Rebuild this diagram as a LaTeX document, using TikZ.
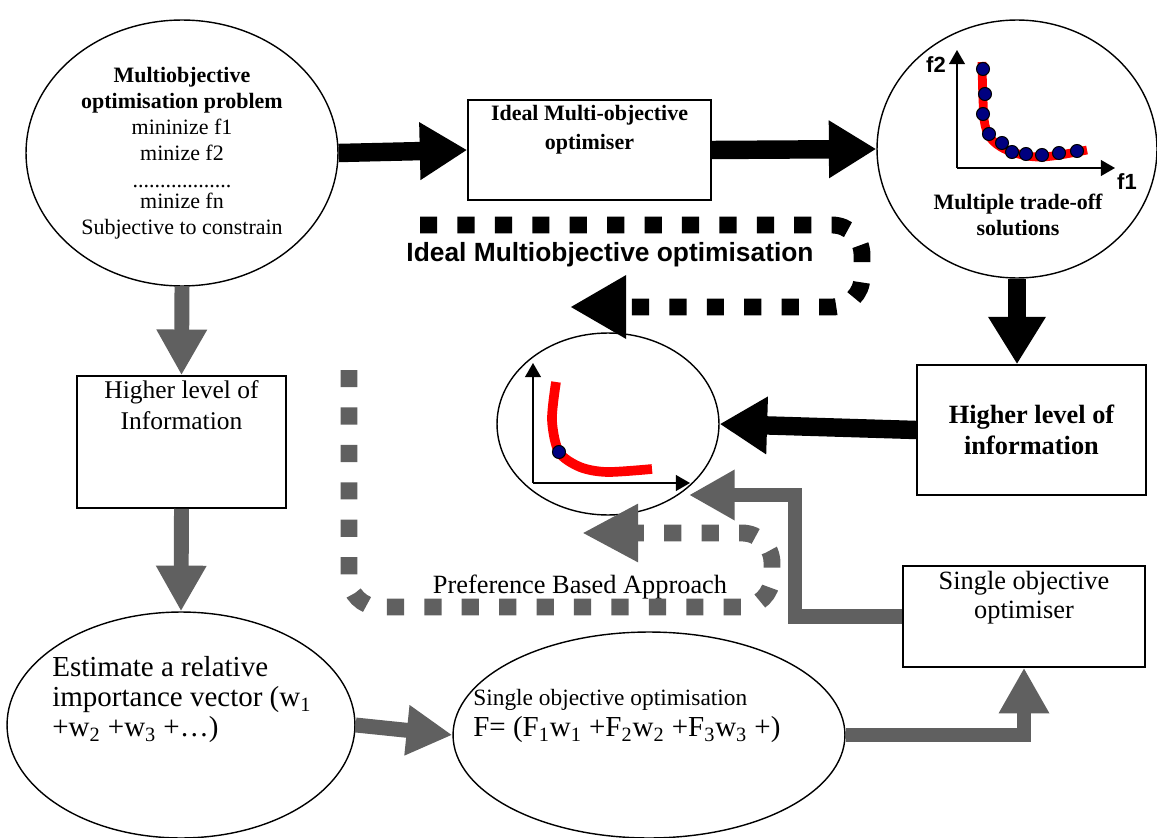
\documentclass[tikz,border=0pt]{standalone}
\usepackage{fontspec}
\setmainfont{Liberation Serif}
\setsansfont{Liberation Sans}
\usetikzlibrary{shapes}
\usetikzlibrary{positioning}
\usetikzlibrary{arrows.meta}
\definecolor{arrowgray}{RGB}{96,96,96}
\definecolor{dotblue}{RGB}{0,0,128}
\tikzset{
    ellnode/.style = {ellipse, draw=black, line width=0.8pt, inner sep=0pt},
    boxnode/.style = {rectangle, draw=black, line width=0.9pt, inner sep=0pt},
    txt/.style = {inner sep=0pt, align=center},
    txtl/.style = {inner sep=0pt, align=left, anchor=north west},
    edgeb/.style = {-{Triangle[length=27pt,width=31pt]}, line width=10.5pt, black},
    edgeg/.style = {-{Triangle[length=26pt,width=27pt]}, line width=8.5pt, arrowgray, line join=miter},
    edgebd/.style = {-{Triangle[length=32pt,width=34pt]}, line width=9.6pt, black, dash pattern=on 9.8pt off 11.5pt}, % ideal loop
    edgegd/.style = {-{Triangle[length=32pt,width=31pt]}, line width=9.6pt, arrowgray, dash pattern=on 9.8pt off 11.5pt}, % preference loop
    axisline/.style = {-{Triangle[length=8pt,width=9pt]}, line width=0.8pt},
    front/.style = {red, line width=5pt},
    soln/.style = {circle, draw=black, fill=dotblue, line width=0.6pt, minimum size=0.26cm, inner sep=0pt}
}

\begin{document}
\begin{tikzpicture}[x=0.02cm, y=-0.02cm, font=\rmfamily]
\useasboundingbox (0,0) rectangle (1157,838);

  % top row
  \node[ellnode, minimum width=6.24cm, minimum height=5.32cm, align=center,
        font=\fontsize{12.5}{14.7}\selectfont] (mop) at (182,153)
    {\textbf{Multiobjective}\\\textbf{optimisation problem}\\mininize f1\\minize f2\\[1pt]
     ..................\\[-3pt]minize fn\\Subjective to constrain};
  \node[boxnode, minimum width=4.86cm, minimum height=2cm] (imo) at (589.5,150) {};
  \node[txt, below=3pt of imo.north, font=\fontsize{12.5}{17}\selectfont\bfseries] (imot)
    {Ideal Multi-objective\\optimiser};
  \node[ellnode, minimum width=5.6cm, minimum height=5.16cm] (mts) at (1017,149) {};
  \node[txt, font=\fontsize{12.5}{14.7}\selectfont\bfseries] (mtst) at (1018,215)
    {Multiple trade-off\\solutions};

  % trade-off plot
  \coordinate (ro) at (957,168);
  \draw[axisline] (ro) -- (957,50);
  \draw[axisline] (ro) -- (1115,168);
  \node[font=\fontsize{12.5}{14}\selectfont\sffamily\bfseries] (f2) at (936,65) {f2};
  \node[font=\fontsize{12.5}{14}\selectfont\sffamily\bfseries] (f1) at (1127,182) {f1};
  \draw[front] plot[smooth, tension=0.6] coordinates
    {(982,62) (983,100) (985,125) (993,141) (1012,152) (1042,157) (1087,150)};
  \foreach \px/\py in {983/69, 985/94, 983/114, 989/134, 1002/143, 1012/152,
                       1026/154, 1042/155, 1059/153, 1077/151}
    \node[soln] at (\px,\py) {};

  % right column
  \node[boxnode, minimum width=4.58cm, minimum height=2.6cm, align=center,
        font=\fontsize{15}{17.5}\selectfont\bfseries] (hli) at (1031.5,430)
    {Higher level of\\information};
  \node[ellnode, minimum width=4.44cm, minimum height=3.64cm] (pref) at (608,424) {};
  \draw[axisline] (533,483) -- (533,363);
  \draw[axisline] (533,483) -- (690,483);
  \draw[front, line width=5.5pt] plot[smooth, tension=0.5] coordinates
    {(556,382) (552,420) (559,452) (580,467) (607,472) (652,469)};
  \node[soln] (pick) at (559,452) {};
  \node[boxnode, minimum width=4.84cm, minimum height=2.02cm] (sopt) at (1024,616.5) {};
  \node[txt, below=3pt of sopt.north, font=\fontsize{15}{17}\selectfont] (soptt)
    {Single objective\\optimiser};

  % left column
  \node[boxnode, minimum width=4.18cm, minimum height=2.64cm] (hlil) at (181.5,442) {};
  \node[txt, below=3pt of hlil.north, font=\fontsize{14.5}{17.5}\selectfont] (hlilt)
    {Higher level of\\Information};
  \node[ellnode, minimum width=6.96cm, minimum height=4.52cm] (est) at (181,725) {};
  \node[txtl, font=\fontsize{16.5}{17.2}\selectfont] (estt) at (52,656)
    {Estimate a relative\\importance vector (w\textsubscript{1}\\+w\textsubscript{2} +w\textsubscript{3} +\ldots)};
  \node[ellnode, minimum width=7.84cm, minimum height=4.12cm] (soo) at (649,735) {};
  \node[txtl, font=\fontsize{13.3}{15}\selectfont] (soot) at (473,689)
    {Single objective optimisation};
  \node[txtl, font=\fontsize{16.5}{17}\selectfont] (soof) at (473,716)
    {F= (F\textsubscript{1}w\textsubscript{1} +F\textsubscript{2}w\textsubscript{2} +F\textsubscript{3}w\textsubscript{3} +)};

  % block arrows
  \draw[edgeb] (mop.east) -- (imo.west);
  \draw[edgeb] (imo.east) -- (mts.west);
  \draw[edgeb] (mts.south) -- (mts.south |- hli.north);
  \draw[edgeb] (hli.west) -- (pref.east);
  \draw[edgeg] (mop.south) -- (hlil.north);
  \draw[edgeg] (hlil.south) -- (est.north);
  \draw[edgeg] (est.east) -- (soo.west);
  \draw[edgeg] (soo.east) -| (sopt.south);
  \coordinate (bendg) at (795,495);
  \coordinate (prefin) at (689,495);
  \draw[edgeg] (sopt.west) -| (bendg) -- (prefin);

  % dotted loops
  \coordinate (idA) at (420,225);
  \coordinate (idB) at (862,225);
  \coordinate (idC) at (862,307);
  \coordinate (idD) at (570,307);
  \draw[edgebd, rounded corners=0.6cm] (idA) -- (idB) -- (idC) -- (idD);
  \node[font=\fontsize{15}{17}\selectfont\sffamily\bfseries] (idlab) at (610,255)
    {Ideal Multiobjective optimisation};

  \coordinate (pbA) at (349,370);
  \coordinate (pbB) at (349,607);
  \coordinate (pbC) at (772,607);
  \coordinate (pbD) at (772,533);
  \coordinate (pbE) at (582,533);
  \draw[edgegd, rounded corners=0.6cm] (pbA) -- (pbB) -- (pbC) -- (pbD) -- (pbE);
  \node[font=\fontsize{15}{17}\selectfont] (pblab) at (580,587) {Preference Based Approach};

\end{tikzpicture}
\end{document}
